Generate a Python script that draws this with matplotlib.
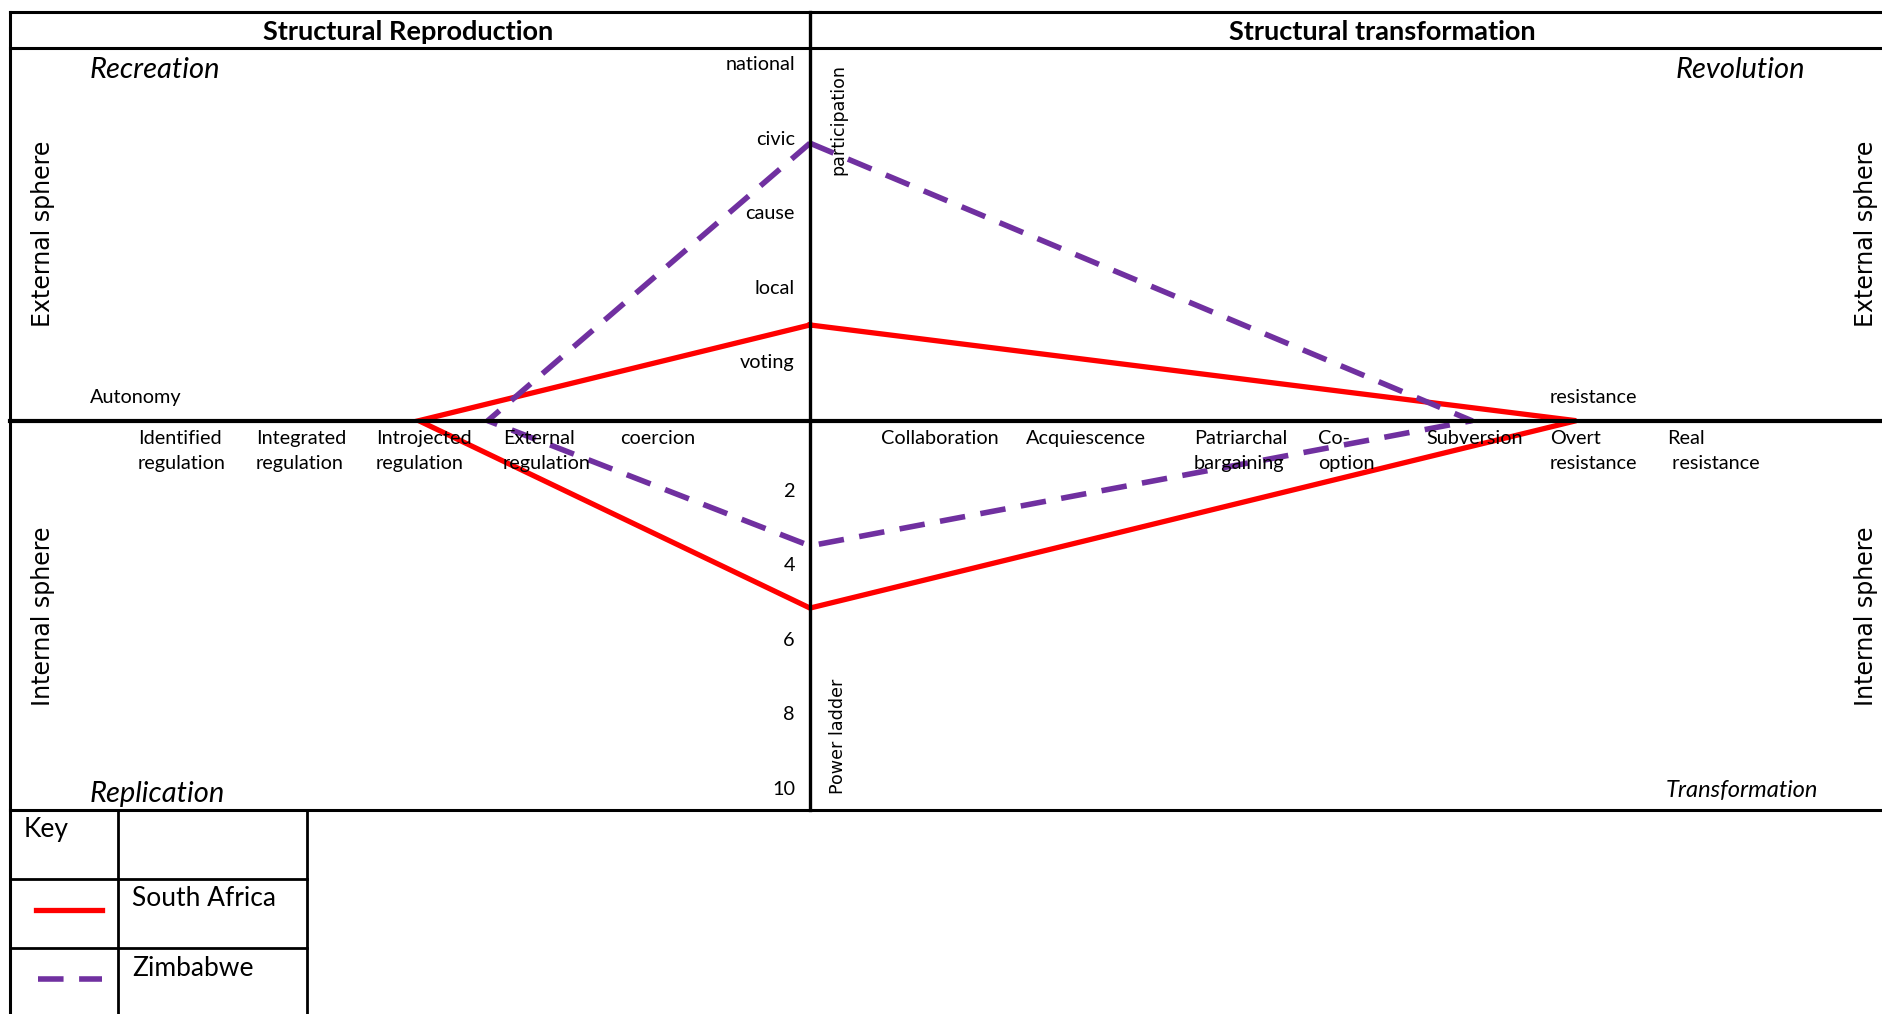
import matplotlib
matplotlib.use("Agg")
import matplotlib.pyplot as plt
from matplotlib.lines import Line2D

# data: each country is a diamond (top, right, bottom, left, back to top)
sa_x = [0, 12.77, 0, -6.52, 0]
sa_y = [2.57, 0, -5.03, 0, 2.57]
zw_x = [0, 11.03, 0, -5.37, 0]
zw_y = [7.45, 0, -3.36, 0, 7.45]

upper_labels = ['voting', 'local', 'cause', 'civic', 'national']
lower_labels = ['2', '4', '6', '8', '10']
tick_vals = [2, 4, 6, 8, 10]

left_labels = [('Identified', 'regulation'), ('Integrated', 'regulation'),
               ('Introjected', 'regulation'), ('External', 'regulation'),
               ('coercion', '')]
right_labels = [('Collaboration', ''), ('Acquiescence', ''),
                ('Patriarchal', 'bargaining'), ('Co-', 'option'),
                ('Subversion', ''), ('Overt', 'resistance'), ('Real', ' resistance')]

W, H = 1883, 1014
fig = plt.figure(figsize=(W / 100, H / 100), dpi=100)
ax = fig.add_axes([0, 0, 1, 1])
ax.set_xlim(-810 / 60, (W - 810) / 60)
ax.set_ylim(-(H - 420.7) / 37.25, 420.7 / 37.25)
ax.axis('off')

body = 'Lato'
lab = 14.3
def fx(x): return x / W
def fy(y): return 1 - y / H

def hline(y, x0, x1, lw=2.0):
    fig.add_artist(Line2D([fx(x0), fx(x1)], [fy(y), fy(y)], color='black', lw=lw))
def vline(x, y0, y1, lw=2.0):
    fig.add_artist(Line2D([fx(x), fx(x)], [fy(y0), fy(y1)], color='black', lw=lw))

# frame
hline(12, 10, W, 2.2)
hline(48, 10, W, 2.2)
hline(810, 10, W, 2.2)
vline(10, 12, H, 2.2)
vline(810, 12, 810, 2.4)
hline(420.7, 10, W, 3.0)
# key table
vline(118, 810, H)
vline(307, 810, H)
hline(879, 10, 307)
hline(948, 10, 307)

# the two series
ax.plot(sa_x, sa_y, color='#FF0000', lw=3.8, solid_joinstyle='miter', label='South Africa')
ax.plot(zw_x, zw_y, color='#7030A0', lw=4.0, dashes=(4.6, 2.8), label='Zimbabwe')

# headers
fig.text(fx(408), fy(32), 'Structural Reproduction', fontsize=19.5, fontweight='bold',
         family=body, ha='center', va='center')
fig.text(fx(1382), fy(32), 'Structural transformation', fontsize=19.5, fontweight='bold',
         family=body, ha='center', va='center')

# quadrant names
fig.text(fx(90), fy(70), 'Recreation', fontsize=21, style='italic', family=body, va='center')
fig.text(fx(1805), fy(70), 'Revolution', fontsize=21, style='italic', family=body,
         va='center', ha='right')
fig.text(fx(90), fy(794), 'Replication', fontsize=21, style='italic', family=body, va='center')
fig.text(fx(1818), fy(790), 'Transformation', fontsize=17, style='italic', family=body,
         va='center', ha='right')

# sphere labels
for x, y, s in [(43, 234, 'External sphere'), (1866, 234, 'External sphere'),
                (43, 616, 'Internal sphere'), (1866, 616, 'Internal sphere')]:
    fig.text(fx(x), fy(y), s, fontsize=17, rotation=90, family='DejaVu Sans',
             ha='center', va='center')
fig.text(fx(838), fy(120), 'participation', fontsize=12.6, rotation=90,
         family='DejaVu Sans', ha='center', va='center')
fig.text(fx(838), fy(736), 'Power ladder', fontsize=12.6, rotation=90,
         family='DejaVu Sans', ha='center', va='center')

# vertical scale labels
for v, s in zip(tick_vals, upper_labels):
    ax.text(-0.25, v - 0.44, s, fontsize=lab, family=body, ha='right', va='center')
for v, s in zip(tick_vals, lower_labels):
    ax.text(-0.25, -v + 0.1, s, fontsize=lab, family=body, ha='right', va='center')

# horizontal scale labels
lefts = [138, 256, 376, 503, 620, 881, 1026, 1194, 1318, 1426, 1550, 1667]
for x, (l1, l2) in zip(lefts, left_labels + right_labels):
    fig.text(fx(x), fy(438.5), l1, fontsize=lab, family=body, va='center')
    if l2:
        fig.text(fx(x), fy(463.5), l2, fontsize=lab, family=body, va='center')
fig.text(fx(90), fy(397.5), 'Autonomy', fontsize=lab, family=body, va='center')
fig.text(fx(1550), fy(397.5), 'resistance', fontsize=lab, family=body, va='center')

# key
fig.text(fx(24), fy(830), 'Key', fontsize=19, family=body, va='center')
fig.text(fx(132), fy(899), 'South Africa', fontsize=19, family=body, va='center')
fig.text(fx(132), fy(968), 'Zimbabwe', fontsize=19, family=body, va='center')
fig.add_artist(Line2D([fx(36), fx(102)], [fy(910), fy(910)], color='#FF0000', lw=3.8))
fig.add_artist(Line2D([fx(38), fx(102)], [fy(979), fy(979)], color='#7030A0', lw=4.0,
                      dashes=(4.6, 2.8)))

fig.savefig('out.png', dpi=100)
